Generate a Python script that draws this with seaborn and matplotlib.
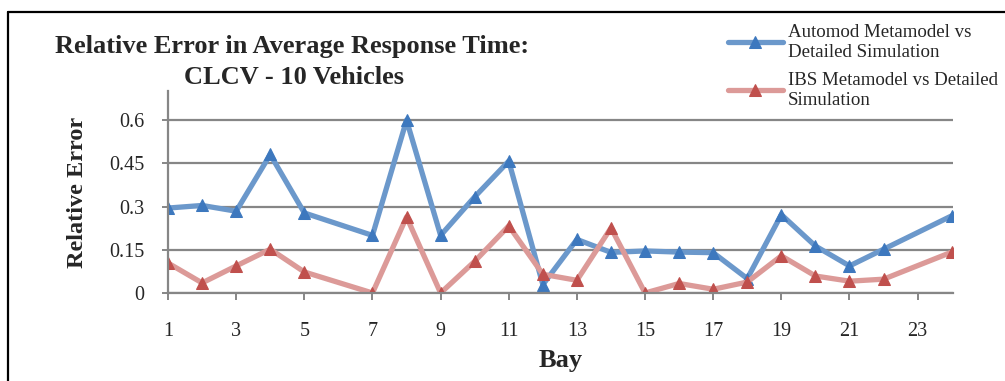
import matplotlib
matplotlib.use("Agg")
import matplotlib.pyplot as plt
import seaborn as sns
import pandas as pd
from matplotlib.lines import Line2D

# -------------------------
# Data
# -------------------------
bays = [1, 2, 3, 4, 5, 7, 8, 9, 10, 11, 12, 13, 14, 15, 16, 17, 18, 19, 20, 21, 22, 24]
automod = [0.295, 0.304, 0.284, 0.481, 0.278, 0.200, 0.600, 0.200, 0.334, 0.458, 0.029,
           0.186, 0.141, 0.146, 0.142, 0.140, 0.050, 0.272, 0.163, 0.094, 0.152, 0.268]
ibs = [0.104, 0.035, 0.094, 0.152, 0.073, 0.000, 0.264, 0.000, 0.110, 0.233, 0.065,
       0.044, 0.226, 0.000, 0.033, 0.013, 0.038, 0.129, 0.059, 0.041, 0.048, 0.142]
series_names = ["Automod Metamodel vs\nDetailed Simulation",
                "IBS Metamodel vs Detailed\nSimulation"]
x_ticks = list(range(1, 24, 2))
y_ticks = [0, 0.15, 0.3, 0.45, 0.6]
y_tick_labels = ["0", "0.15", "0.3", "0.45", "0.6"]

df = pd.DataFrame({
    "Bay": bays * 2,
    "Relative Error": automod + ibs,
    "Series": [series_names[0]] * len(bays) + [series_names[1]] * len(bays),
})

sns.set_style("white")
plt.rcParams['font.family'] = ['Liberation Serif', 'DejaVu Serif']

fig = plt.figure(figsize=(10.05, 3.81), dpi=100)
ax = fig.add_axes([0.1672, 0.231, 0.7808, 0.529])

line_colors = ["#6b98cb", "#dc9a98"]
marker_colors = ["#3d78be", "#c0504d"]
for name, lc, mc in zip(series_names, line_colors, marker_colors):
    sub = df[df["Series"] == name]
    sns.lineplot(data=sub, x="Bay", y="Relative Error", ax=ax, color=lc,
                 linewidth=3.8, marker="^", markersize=9, markerfacecolor=mc,
                 markeredgecolor=mc, label=name, solid_capstyle="round")

ax.set_xlim(1, 24.03)
ax.set_ylim(0, 0.7)
ax.set_xticks(x_ticks)
ax.set_xticklabels([str(t) for t in x_ticks], fontsize=14.5)
ax.set_yticks(y_ticks)
ax.set_yticklabels(y_tick_labels, fontsize=14.5)
ax.grid(axis="y", color="#868686", linewidth=1.6)
ax.set_axisbelow(True)

for side in ["top", "right"]:
    ax.spines[side].set_visible(False)
ax.spines["left"].set_color("#868686")
ax.spines["left"].set_linewidth(1.6)
ax.spines["bottom"].set_color("#868686")
ax.spines["bottom"].set_linewidth(1.6)
ax.tick_params(axis="x", direction="out", length=5, width=1.4, color="#868686", pad=16, bottom=True)
ax.tick_params(axis="y", direction="out", length=4, width=1.4, color="#868686", pad=13, left=True)

ax.set_xlabel("Bay", fontsize=19, fontweight="bold", labelpad=6)
ax.set_ylabel("Relative Error", fontsize=17.5, fontweight="bold", labelpad=15)

# title (two lines, placed as in the reference)
fig.text(292 / 1005, 1 - 47 / 381, "Relative Error in Average Response Time:",
         fontsize=19, fontweight="bold", ha="center", va="center")
fig.text(294 / 1005, 1 - 77 / 381, "CLCV - 10 Vehicles",
         fontsize=19, fontweight="bold", ha="center", va="center")

leg = ax.legend(loc="upper left", bbox_to_anchor=(728 / 1005, 1 - 24 / 381),
                bbox_transform=fig.transFigure, frameon=False, fontsize=13.6,
                handlelength=2.9, handletextpad=0.25, labelspacing=0.6,
                borderaxespad=0, borderpad=0)

# outer frame (top and left edge only visible)
fig.add_artist(Line2D([8 / 1005, 8 / 1005], [0, 1 - 12 / 381], color="black",
                      linewidth=1.6, transform=fig.transFigure))
fig.add_artist(Line2D([8 / 1005, 1], [1 - 12 / 381, 1 - 12 / 381], color="black",
                      linewidth=1.6, transform=fig.transFigure))

fig.savefig("out.png", dpi=100)
